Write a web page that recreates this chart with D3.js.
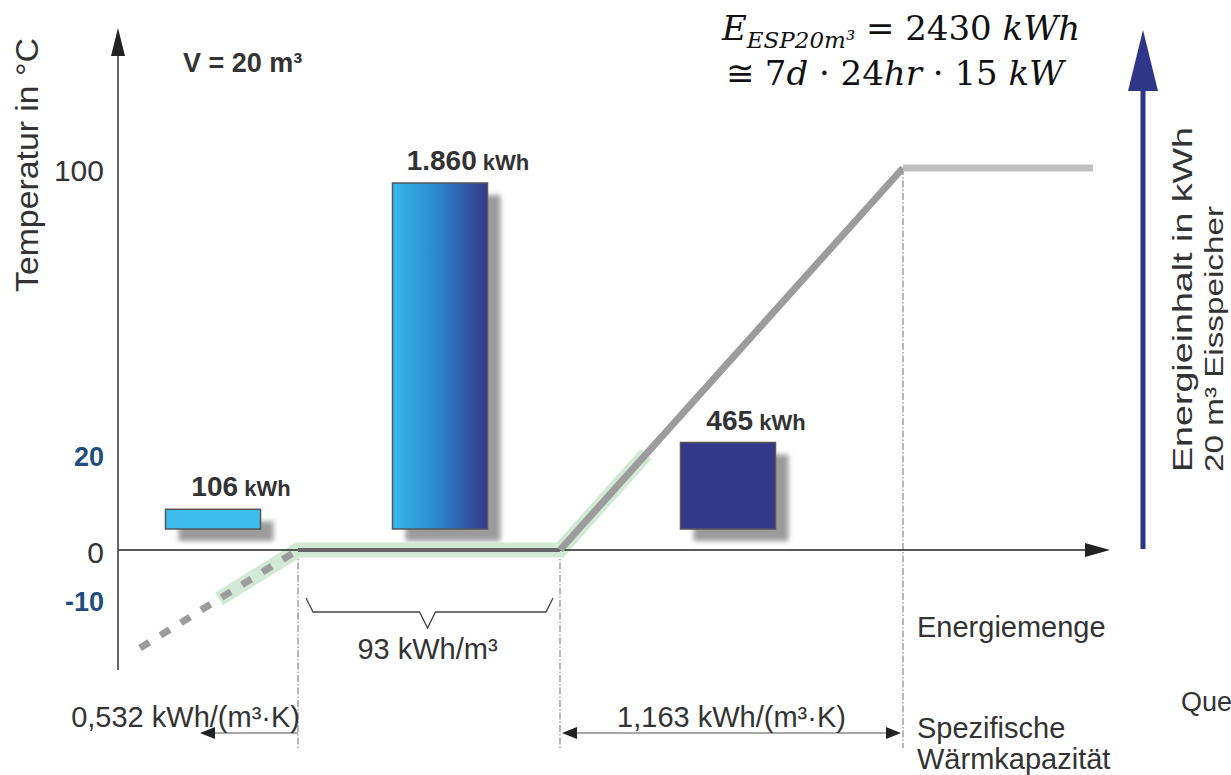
<!DOCTYPE html>
<html><head><meta charset="utf-8">
<script src="https://cdn.jsdelivr.net/npm/d3@7"></script>
<style>
html,body{margin:0;padding:0;background:#fff;overflow:hidden}
svg{display:block}
text{font-family:"Liberation Sans",Arial,sans-serif}
</style></head><body>
<svg id="chart" width="1231" height="775"></svg>
<script>
// Energy stored in a 20 m³ ice store, per phase (kWh)
const phases = ["Eis", "Schmelze", "Wasser"];
const phaseEnergy = [106, 1860, 465];
const phaseLabels = ["106", "1.860", "465"];

// Temperature over cumulative energy (kWh for 20 m³)
const pathEnergy = [106, 1966, 4292, 5400];
const pathTemp = [0, 0, 100, 100];
// ice branch below 0 °C (dashed)
const iceEnergy = [-106, 106];
const iceTemp = [-20, 0];
// operating range −10 … 20 °C (green band)
const bandEnergy = [0, 106, 1966, 2431];
const bandTemp = [-10, 0, 0, 20];

const tempTicks = [-10, 0, 20, 100];
const phaseBounds = [106, 1966, 4292];

const svg = d3.select("#chart");
const defs = svg.append("defs");
const ink = "#333";

// schematic (piecewise) scales
const x = d3.scaleLinear()
  .domain([-106, 106, 1966, 2431, 4292, 5400])
  .range([140, 298, 560, 646, 903, 1093]);
const y = d3.scaleLinear()
  .domain([-20, 0, 20, 100])
  .range([648, 550, 454, 168]);
const barH = d3.scaleLinear().domain([0, 1860]).range([0, 346]);
const barX = d3.scaleOrdinal().domain(phases).range([213, 440, 728]);
const barW = 95, barBase = 529;

defs.append("filter").attr("id", "soft")
  .attr("x", "-20%").attr("y", "-20%").attr("width", "140%").attr("height", "140%")
  .append("feGaussianBlur").attr("stdDeviation", 2.8);

const grad = defs.append("linearGradient").attr("id", "melt")
  .attr("x1", "0%").attr("x2", "100%").attr("y1", "0%").attr("y2", "0%");
grad.append("stop").attr("offset", "0%").attr("stop-color", "#36b9ec");
grad.append("stop").attr("offset", "45%").attr("stop-color", "#2a8bcb");
grad.append("stop").attr("offset", "100%").attr("stop-color", "#33378a");
const barFill = ["#3ebdec", "url(#melt)", "#333889"];

// dash-dot phase boundaries
svg.append("g").selectAll("line").data(phaseBounds).join("line")
  .attr("x1", d => x(d)).attr("x2", d => x(d))
  .attr("y1", (d, i) => i === 2 ? y(100) : y(0)).attr("y2", 748)
  .attr("stroke", "#8a8a8a").attr("stroke-width", 1.2)
  .attr("stroke-dasharray", "7,2,1.5,2");

// bars with drop shadows
const bars = phases.map((p, i) => ({p, v: phaseEnergy[i], label: phaseLabels[i], fill: barFill[i]}));
const gb = svg.append("g");
gb.selectAll("rect.shadow").data(bars).join("rect").attr("class", "shadow")
  .attr("x", d => barX(d.p) - barW / 2 + 13).attr("y", d => barBase - barH(d.v) + 12)
  .attr("width", barW).attr("height", d => barH(d.v))
  .attr("fill", "#9b9b9b").attr("filter", "url(#soft)");
gb.selectAll("rect.bar").data(bars).join("rect").attr("class", "bar")
  .attr("x", d => barX(d.p) - barW / 2).attr("y", d => barBase - barH(d.v))
  .attr("width", barW).attr("height", d => barH(d.v))
  .attr("fill", d => d.fill).attr("stroke", "#555").attr("stroke-width", 1.5);
const lab = gb.selectAll("text").data(bars).join("text")
  .attr("x", d => barX(d.p) + 28).attr("y", d => barBase - barH(d.v) - 13)
  .attr("text-anchor", "middle").attr("font-weight", "bold").attr("fill", ink);
lab.append("tspan").attr("font-size", 28).text(d => d.label);
lab.append("tspan").attr("font-size", 22).text(" kWh");

// green operating band
const line = d3.line().x(d => x(d[0])).y(d => y(d[1]));
svg.append("path").datum(d3.zip(bandEnergy, bandTemp)).attr("d", line)
  .attr("fill", "none").attr("stroke", "#d2ead5").attr("stroke-width", 15);

// axes lines
svg.append("line").attr("x1", 118).attr("x2", 1092).attr("y1", y(0)).attr("y2", y(0))
  .attr("stroke", "#222").attr("stroke-width", 1.5);
svg.append("path").attr("d", `M1110,${y(0)}L1085,${y(0) - 7}L1085,${y(0) + 7}Z`).attr("fill", "#222");
svg.append("line").attr("x1", 118).attr("x2", 118).attr("y1", 670).attr("y2", 50)
  .attr("stroke", "#555").attr("stroke-width", 1.8);
svg.append("path").attr("d", "M118,28L111,56L125,56Z").attr("fill", "#222");

// temperature path
const segStyle = [["#666", 4], ["#9c9c9c", 7], ["#bfbfbf", 7]];
const pts = d3.zip(pathEnergy, pathTemp);
svg.append("g").selectAll("path").data(d3.pairs(pts)).join("path")
  .attr("d", d => line(d)).attr("fill", "none")
  .attr("stroke", (d, i) => segStyle[i][0]).attr("stroke-width", (d, i) => segStyle[i][1]);
svg.append("path").datum(d3.zip(iceEnergy, iceTemp)).attr("d", line)
  .attr("fill", "none").attr("stroke", "#9c9c9c").attr("stroke-width", 7)
  .attr("stroke-dasharray", "11,13");

// temperature tick labels
const ya = svg.append("g").attr("transform", "translate(118,3)")
  .call(d3.axisLeft(y).tickValues(tempTicks).tickSize(0).tickPadding(14).tickFormat(d => String(d)));
ya.select(".domain").remove();
ya.selectAll("text")
  .style("font-family", "'Liberation Sans',Arial,sans-serif")
  .attr("font-size", d => (d === 0 || d === 100) ? 30 : 27)
  .attr("font-weight", d => (d === 0 || d === 100) ? "normal" : "bold")
  .attr("fill", d => (d === 0 || d === 100) ? ink : "#1f4e7c");

// axis titles
svg.append("text").attr("transform", "translate(38,292) rotate(-90)").attr("fill", ink)
  .attr("font-size", 31).attr("textLength", 254).attr("lengthAdjust", "spacingAndGlyphs")
  .text("Temperatur in °C");
svg.append("text").attr("x", 183).attr("y", 72).attr("font-size", 27).attr("font-weight", "bold")
  .attr("fill", ink).text("V = 20 m³");

// energy content arrow (right)
svg.append("line").attr("x1", 1143).attr("x2", 1143).attr("y1", 549).attr("y2", 85)
  .attr("stroke", "#2f3588").attr("stroke-width", 5);
svg.append("path").attr("d", "M1143,30L1128,91L1158,91Z").attr("fill", "#2f3588");
svg.append("text").attr("transform", "translate(1192,472) rotate(-90)").attr("fill", ink)
  .attr("font-size", 28).attr("textLength", 345).attr("lengthAdjust", "spacingAndGlyphs")
  .text("Energieinhalt in kWh");
svg.append("text").attr("transform", "translate(1223,472) rotate(-90)").attr("fill", ink)
  .attr("font-size", 25).attr("textLength", 266).attr("lengthAdjust", "spacingAndGlyphs")
  .text("20 m³ Eisspeicher");

// formula
const f1 = svg.append("text").attr("x", 901).attr("y", 40).attr("text-anchor", "middle")
  .style("font-family", "'DejaVu Serif',serif").attr("font-size", 34).attr("fill", "#111");
f1.append("tspan").attr("font-style", "italic").text("E");
f1.append("tspan").attr("font-style", "italic").attr("font-size", 23).attr("dy", 8).text("ESP20m³");
f1.append("tspan").attr("dy", -8).text(" = 2430 ");
f1.append("tspan").attr("font-style", "italic").text("kWh");
const f2 = svg.append("text").attr("x", 895).attr("y", 85).attr("text-anchor", "middle")
  .style("font-family", "'DejaVu Serif',serif").attr("font-size", 34).attr("fill", "#111");
[["≅ 7", false], ["d", true], [" · 24", false], ["hr", true], [" · 15 ", false], ["kW", true]]
  .forEach(([t, it]) => f2.append("tspan").attr("font-style", it ? "italic" : "normal").text(t));

// brace for latent heat
const bl = x(106) + 8, br = x(1966) - 7, bm = (bl + br) / 2 - 2;
svg.append("path")
  .attr("d", `M${bl},598L${bl + 7},612L${bm - 8},612L${bm},628L${bm + 8},612L${br - 7},612L${br},598`)
  .attr("fill", "none").attr("stroke", "#444").attr("stroke-width", 1.3);
svg.append("text").attr("x", bm).attr("y", 659).attr("text-anchor", "middle").attr("font-size", 29)
  .attr("fill", ink).text("93 kWh/m³");

// specific heat arrows
function head(xp, dir) {
  return `M${xp},733L${xp - dir * 15},727L${xp - dir * 15},739Z`;
}
const ga = svg.append("g");
ga.append("line").attr("x1", x(106)).attr("x2", 210).attr("y1", 733).attr("y2", 733)
  .attr("stroke", "#a8a8a8").attr("stroke-width", 2.2);
ga.append("path").attr("d", head(200, -1)).attr("fill", "#222");
ga.append("line").attr("x1", x(1966) + 8).attr("x2", x(4292) - 8).attr("y1", 733).attr("y2", 733)
  .attr("stroke", "#a8a8a8").attr("stroke-width", 2.2);
ga.append("path").attr("d", head(x(1966) + 2, -1)).attr("fill", "#222");
ga.append("path").attr("d", head(x(4292) - 2, 1)).attr("fill", "#222");

svg.append("text").attr("x", x(106) + 2).attr("y", 727).attr("text-anchor", "end").attr("font-size", 29)
  .attr("fill", ink).text("0,532 kWh/(m³·K)");
svg.append("text").attr("x", (x(1966) + x(4292)) / 2).attr("y", 727).attr("text-anchor", "middle")
  .attr("font-size", 29).attr("fill", ink).text("1,163 kWh/(m³·K)");
svg.append("text").attr("x", 917).attr("y", 637).attr("font-size", 29).attr("fill", ink).text("Energiemenge");
svg.append("text").attr("x", 917).attr("y", 738).attr("font-size", 29).attr("fill", ink).text("Spezifische");
svg.append("text").attr("x", 917).attr("y", 769).attr("font-size", 29).attr("fill", ink).text("Wärmkapazität");
svg.append("text").attr("x", 1181).attr("y", 711).attr("font-size", 27).attr("fill", ink).text("Que");
</script>
</body></html>
